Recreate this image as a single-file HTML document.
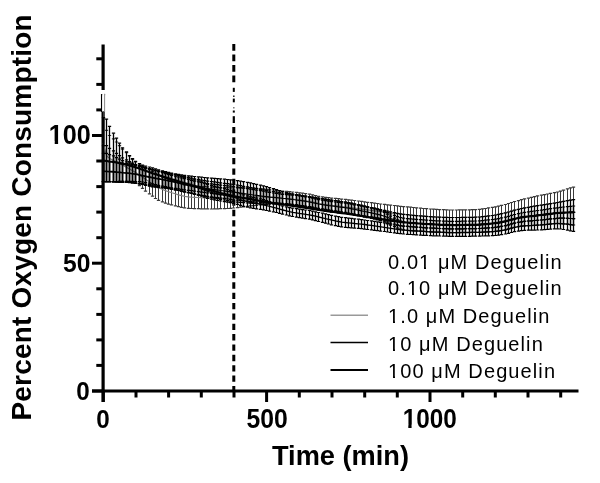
<!DOCTYPE html>
<html><head><meta charset="utf-8"><style>
html,body{margin:0;padding:0;background:#fff;}
svg{display:block;filter:grayscale(1);}
text{font-family:"Liberation Sans",sans-serif;fill:#000;}
.tk{font-size:26px;font-weight:bold;}
.tt{font-size:28px;font-weight:bold;}
.lg{font-size:20px;letter-spacing:1.1px;}
</style></head><body>
<svg width="600" height="483" viewBox="0 0 600 483">
<rect width="600" height="483" fill="#fff"/>
<line x1="103.1" y1="44.5" x2="103.1" y2="90" stroke="#000" stroke-width="3.2"/>
<line x1="101.6" y1="94" x2="101.6" y2="112" stroke="#000" stroke-width="1.3"/>
<line x1="104.5" y1="94" x2="104.5" y2="112" stroke="#808080" stroke-width="1"/>
<line x1="103.1" y1="111.5" x2="103.1" y2="402" stroke="#000" stroke-width="3.2"/>
<line x1="92" y1="391" x2="578.5" y2="391" stroke="#000" stroke-width="3"/>
<line x1="92" y1="391.0" x2="103.1" y2="391.0" stroke="#000" stroke-width="3"/>
<line x1="96.3" y1="365.4" x2="103.1" y2="365.4" stroke="#000" stroke-width="3"/>
<line x1="96.3" y1="339.9" x2="103.1" y2="339.9" stroke="#000" stroke-width="3"/>
<line x1="96.3" y1="314.4" x2="103.1" y2="314.4" stroke="#000" stroke-width="3"/>
<line x1="96.3" y1="288.8" x2="103.1" y2="288.8" stroke="#000" stroke-width="3"/>
<line x1="92" y1="263.2" x2="103.1" y2="263.2" stroke="#000" stroke-width="3"/>
<line x1="96.3" y1="237.7" x2="103.1" y2="237.7" stroke="#000" stroke-width="3"/>
<line x1="96.3" y1="212.1" x2="103.1" y2="212.1" stroke="#000" stroke-width="3"/>
<line x1="96.3" y1="186.6" x2="103.1" y2="186.6" stroke="#000" stroke-width="3"/>
<line x1="96.3" y1="161.0" x2="103.1" y2="161.0" stroke="#000" stroke-width="3"/>
<line x1="92" y1="135.5" x2="103.1" y2="135.5" stroke="#000" stroke-width="3"/>
<line x1="96.3" y1="109.9" x2="101" y2="109.9" stroke="#000" stroke-width="3"/>
<line x1="96.3" y1="84.4" x2="103.1" y2="84.4" stroke="#000" stroke-width="3"/>
<line x1="96.3" y1="58.8" x2="103.1" y2="58.8" stroke="#000" stroke-width="3"/>
<line x1="103.3" y1="391" x2="103.3" y2="402" stroke="#000" stroke-width="3"/>
<line x1="136.0" y1="391" x2="136.0" y2="397.5" stroke="#000" stroke-width="3"/>
<line x1="168.6" y1="391" x2="168.6" y2="397.5" stroke="#000" stroke-width="3"/>
<line x1="201.3" y1="391" x2="201.3" y2="397.5" stroke="#000" stroke-width="3"/>
<line x1="234.0" y1="391" x2="234.0" y2="397.5" stroke="#000" stroke-width="3"/>
<line x1="266.6" y1="391" x2="266.6" y2="402" stroke="#000" stroke-width="3"/>
<line x1="299.3" y1="391" x2="299.3" y2="397.5" stroke="#000" stroke-width="3"/>
<line x1="332.0" y1="391" x2="332.0" y2="397.5" stroke="#000" stroke-width="3"/>
<line x1="364.7" y1="391" x2="364.7" y2="397.5" stroke="#000" stroke-width="3"/>
<line x1="397.3" y1="391" x2="397.3" y2="397.5" stroke="#000" stroke-width="3"/>
<line x1="430.0" y1="391" x2="430.0" y2="402" stroke="#000" stroke-width="3"/>
<line x1="462.7" y1="391" x2="462.7" y2="397.5" stroke="#000" stroke-width="3"/>
<line x1="495.3" y1="391" x2="495.3" y2="397.5" stroke="#000" stroke-width="3"/>
<line x1="528.0" y1="391" x2="528.0" y2="397.5" stroke="#000" stroke-width="3"/>
<line x1="560.7" y1="391" x2="560.7" y2="397.5" stroke="#000" stroke-width="3"/>
<line x1="233.8" y1="44" x2="233.8" y2="86" stroke="#000" stroke-width="3" stroke-dasharray="6.7 3.8"/>
<rect x="232.80" y="87.8" width="2" height="4.1" fill="#000"/>
<rect x="233.05" y="95.5" width="1.5" height="1.5" fill="#222"/>
<rect x="232.80" y="98.6" width="2" height="3.7" fill="#000"/>
<rect x="233.05" y="107" width="1.5" height="1.5" fill="#777"/>
<rect x="232.80" y="110.5" width="2" height="2.1" fill="#000"/>
<rect x="232.70" y="116.2" width="2.2" height="6.8" fill="#000"/>
<line x1="233.8" y1="127" x2="233.8" y2="391" stroke="#000" stroke-width="3" stroke-dasharray="6.3 4.056"/>
<path d="M103.50 94.6V181.5M106.50 130.4V181.5M109.50 135.5V181.5M113.50 138.9V181.5M116.50 142.0V181.5M119.50 145.7V181.4M122.50 149.2V181.4M126.50 152.7V181.4M129.50 156.1V181.6M132.50 159.3V182.2M135.50 162.0V183.5M139.50 164.2V185.7M142.50 165.9V188.3M145.50 167.6V191.2M149.50 169.4V193.8M152.50 171.4V196.2M155.50 173.3V198.5M158.50 175.2V200.4M162.50 176.8V201.9M165.50 178.2V203.1M168.50 179.4V204.1M171.50 180.6V204.9M175.50 181.8V205.8M178.50 182.9V206.6M181.50 183.9V207.3M184.50 184.8V207.9M188.50 185.4V208.3M191.50 185.7V208.5M194.50 186.0V208.6M198.50 186.3V208.7M201.50 186.5V208.8M204.50 186.7V208.9M207.50 186.9V208.9M211.50 187.1V209.0M214.50 187.2V208.9M217.50 187.4V208.8M220.50 187.5V208.7M224.50 187.6V208.6M227.50 187.7V208.5M230.50 187.8V208.3M233.50 187.8V208.0M237.50 187.9V207.7M240.50 187.9V207.2M243.50 187.9V206.8M247.50 187.9V206.3M250.50 188.0V205.9M253.50 188.2V205.6M256.50 188.4V205.3M260.50 188.7V205.0M263.50 188.9V204.7M266.50 189.3V204.4M269.50 189.6V204.0M273.50 190.0V203.7M276.50 190.4V203.5M279.50 190.8V203.5M282.50 191.1V203.7M286.50 191.4V204.0M289.50 191.7V204.4M292.50 192.0V204.8M296.50 192.4V205.2M299.50 192.8V205.7M302.50 193.2V206.1M305.50 193.6V206.6M309.50 194.2V207.2M312.50 194.8V208.0M315.50 195.6V208.9M318.50 196.3V209.7M322.50 196.9V210.4M325.50 197.3V211.0M328.50 197.7V211.4M331.50 198.1V211.8M335.50 198.4V212.2M338.50 198.7V212.6M341.50 199.1V213.0M345.50 199.4V213.4M348.50 199.8V213.8M351.50 200.1V214.2M354.50 200.5V214.6M358.50 201.0V215.1M361.50 201.4V215.5M364.50 201.8V216.0M367.50 202.3V216.5M371.50 202.7V216.9M374.50 203.1V217.4M377.50 203.5V217.9M380.50 204.0V218.4M384.50 204.4V219.0M387.50 204.8V219.6M390.50 205.1V220.2M394.50 205.5V220.8M397.50 205.9V221.4M400.50 206.3V221.9M403.50 206.6V222.2M407.50 206.9V222.5M410.50 207.2V222.8M413.50 207.5V223.0M416.50 207.8V223.3M420.50 208.2V223.5M423.50 208.5V223.8M426.50 208.7V224.0M430.50 209.0V224.2M433.50 209.2V224.4M436.50 209.4V224.5M439.50 209.6V224.7M443.50 209.7V224.8M446.50 209.9V224.9M449.50 210.0V225.0M452.50 210.0V225.1M456.50 210.0V225.1M459.50 209.9V225.0M462.50 209.9V225.0M465.50 209.8V224.9M469.50 209.8V224.9M472.50 209.7V224.8M475.50 209.6V224.8M479.50 209.3V224.6M482.50 208.9V224.4M485.50 208.5V224.2M488.50 207.9V223.9M492.50 207.4V223.5M495.50 206.8V223.2M498.50 206.1V222.7M501.50 205.3V222.1M505.50 204.5V221.4M508.50 203.5V220.5M511.50 202.5V219.6M514.50 201.5V218.8M518.50 200.6V218.0M521.50 199.7V217.4M524.50 198.9V216.9M528.50 198.1V216.5M531.50 197.4V216.1M534.50 196.6V215.8M537.50 195.9V215.4M541.50 195.2V215.0M544.50 194.6V214.6M547.50 194.0V214.2M550.50 193.4V213.8M554.50 192.7V213.4M557.50 192.0V213.0M560.50 191.1V212.8M563.50 190.1V212.6M567.50 188.9V212.5M570.50 187.9V212.4M573.50 187.1V212.4" stroke="#3a3a3a" stroke-width="1.0" fill="none"/>
<path d="M101.85 94.6h3.3M101.85 181.5h3.3M104.85 130.4h3.3M104.85 181.5h3.3M107.85 135.5h3.3M107.85 181.5h3.3M111.85 138.9h3.3M111.85 181.5h3.3M114.85 142.0h3.3M114.85 181.5h3.3M117.85 145.7h3.3M117.85 181.4h3.3M120.85 149.2h3.3M120.85 181.4h3.3M124.85 152.7h3.3M124.85 181.4h3.3M127.85 156.1h3.3M127.85 181.6h3.3M130.85 159.3h3.3M130.85 182.2h3.3M133.85 162.0h3.3M133.85 183.5h3.3M137.85 164.2h3.3M137.85 185.7h3.3M140.85 165.9h3.3M140.85 188.3h3.3M143.85 167.6h3.3M143.85 191.2h3.3M147.85 169.4h3.3M147.85 193.8h3.3M150.85 171.4h3.3M150.85 196.2h3.3M153.85 173.3h3.3M153.85 198.5h3.3M156.85 175.2h3.3M156.85 200.4h3.3M160.85 176.8h3.3M160.85 201.9h3.3M163.85 178.2h3.3M163.85 203.1h3.3M166.85 179.4h3.3M166.85 204.1h3.3M169.85 180.6h3.3M169.85 204.9h3.3M173.85 181.8h3.3M173.85 205.8h3.3M176.85 182.9h3.3M176.85 206.6h3.3M179.85 183.9h3.3M179.85 207.3h3.3M182.85 184.8h3.3M182.85 207.9h3.3M186.85 185.4h3.3M186.85 208.3h3.3M189.85 185.7h3.3M189.85 208.5h3.3M192.85 186.0h3.3M192.85 208.6h3.3M196.85 186.3h3.3M196.85 208.7h3.3M199.85 186.5h3.3M199.85 208.8h3.3M202.85 186.7h3.3M202.85 208.9h3.3M205.85 186.9h3.3M205.85 208.9h3.3M209.85 187.1h3.3M209.85 209.0h3.3M212.85 187.2h3.3M212.85 208.9h3.3M215.85 187.4h3.3M215.85 208.8h3.3M218.85 187.5h3.3M218.85 208.7h3.3M222.85 187.6h3.3M222.85 208.6h3.3M225.85 187.7h3.3M225.85 208.5h3.3M228.85 187.8h3.3M228.85 208.3h3.3M231.85 187.8h3.3M231.85 208.0h3.3M235.85 187.9h3.3M235.85 207.7h3.3M238.85 187.9h3.3M238.85 207.2h3.3M241.85 187.9h3.3M241.85 206.8h3.3M245.85 187.9h3.3M245.85 206.3h3.3M248.85 188.0h3.3M248.85 205.9h3.3M251.85 188.2h3.3M251.85 205.6h3.3M254.85 188.4h3.3M254.85 205.3h3.3M258.85 188.7h3.3M258.85 205.0h3.3M261.85 188.9h3.3M261.85 204.7h3.3M264.85 189.3h3.3M264.85 204.4h3.3M267.85 189.6h3.3M267.85 204.0h3.3M271.85 190.0h3.3M271.85 203.7h3.3M274.85 190.4h3.3M274.85 203.5h3.3M277.85 190.8h3.3M277.85 203.5h3.3M280.85 191.1h3.3M280.85 203.7h3.3M284.85 191.4h3.3M284.85 204.0h3.3M287.85 191.7h3.3M287.85 204.4h3.3M290.85 192.0h3.3M290.85 204.8h3.3M294.85 192.4h3.3M294.85 205.2h3.3M297.85 192.8h3.3M297.85 205.7h3.3M300.85 193.2h3.3M300.85 206.1h3.3M303.85 193.6h3.3M303.85 206.6h3.3M307.85 194.2h3.3M307.85 207.2h3.3M310.85 194.8h3.3M310.85 208.0h3.3M313.85 195.6h3.3M313.85 208.9h3.3M316.85 196.3h3.3M316.85 209.7h3.3M320.85 196.9h3.3M320.85 210.4h3.3M323.85 197.3h3.3M323.85 211.0h3.3M326.85 197.7h3.3M326.85 211.4h3.3M329.85 198.1h3.3M329.85 211.8h3.3M333.85 198.4h3.3M333.85 212.2h3.3M336.85 198.7h3.3M336.85 212.6h3.3M339.85 199.1h3.3M339.85 213.0h3.3M343.85 199.4h3.3M343.85 213.4h3.3M346.85 199.8h3.3M346.85 213.8h3.3M349.85 200.1h3.3M349.85 214.2h3.3M352.85 200.5h3.3M352.85 214.6h3.3M356.85 201.0h3.3M356.85 215.1h3.3M359.85 201.4h3.3M359.85 215.5h3.3M362.85 201.8h3.3M362.85 216.0h3.3M365.85 202.3h3.3M365.85 216.5h3.3M369.85 202.7h3.3M369.85 216.9h3.3M372.85 203.1h3.3M372.85 217.4h3.3M375.85 203.5h3.3M375.85 217.9h3.3M378.85 204.0h3.3M378.85 218.4h3.3M382.85 204.4h3.3M382.85 219.0h3.3M385.85 204.8h3.3M385.85 219.6h3.3M388.85 205.1h3.3M388.85 220.2h3.3M392.85 205.5h3.3M392.85 220.8h3.3M395.85 205.9h3.3M395.85 221.4h3.3M398.85 206.3h3.3M398.85 221.9h3.3M401.85 206.6h3.3M401.85 222.2h3.3M405.85 206.9h3.3M405.85 222.5h3.3M408.85 207.2h3.3M408.85 222.8h3.3M411.85 207.5h3.3M411.85 223.0h3.3M414.85 207.8h3.3M414.85 223.3h3.3M418.85 208.2h3.3M418.85 223.5h3.3M421.85 208.5h3.3M421.85 223.8h3.3M424.85 208.7h3.3M424.85 224.0h3.3M428.85 209.0h3.3M428.85 224.2h3.3M431.85 209.2h3.3M431.85 224.4h3.3M434.85 209.4h3.3M434.85 224.5h3.3M437.85 209.6h3.3M437.85 224.7h3.3M441.85 209.7h3.3M441.85 224.8h3.3M444.85 209.9h3.3M444.85 224.9h3.3M447.85 210.0h3.3M447.85 225.0h3.3M450.85 210.0h3.3M450.85 225.1h3.3M454.85 210.0h3.3M454.85 225.1h3.3M457.85 209.9h3.3M457.85 225.0h3.3M460.85 209.9h3.3M460.85 225.0h3.3M463.85 209.8h3.3M463.85 224.9h3.3M467.85 209.8h3.3M467.85 224.9h3.3M470.85 209.7h3.3M470.85 224.8h3.3M473.85 209.6h3.3M473.85 224.8h3.3M477.85 209.3h3.3M477.85 224.6h3.3M480.85 208.9h3.3M480.85 224.4h3.3M483.85 208.5h3.3M483.85 224.2h3.3M486.85 207.9h3.3M486.85 223.9h3.3M490.85 207.4h3.3M490.85 223.5h3.3M493.85 206.8h3.3M493.85 223.2h3.3M496.85 206.1h3.3M496.85 222.7h3.3M499.85 205.3h3.3M499.85 222.1h3.3M503.85 204.5h3.3M503.85 221.4h3.3M506.85 203.5h3.3M506.85 220.5h3.3M509.85 202.5h3.3M509.85 219.6h3.3M512.85 201.5h3.3M512.85 218.8h3.3M516.85 200.6h3.3M516.85 218.0h3.3M519.85 199.7h3.3M519.85 217.4h3.3M522.85 198.9h3.3M522.85 216.9h3.3M526.85 198.1h3.3M526.85 216.5h3.3M529.85 197.4h3.3M529.85 216.1h3.3M532.85 196.6h3.3M532.85 215.8h3.3M535.85 195.9h3.3M535.85 215.4h3.3M539.85 195.2h3.3M539.85 215.0h3.3M542.85 194.6h3.3M542.85 214.6h3.3M545.85 194.0h3.3M545.85 214.2h3.3M548.85 193.4h3.3M548.85 213.8h3.3M552.85 192.7h3.3M552.85 213.4h3.3M555.85 192.0h3.3M555.85 213.0h3.3M558.85 191.1h3.3M558.85 212.8h3.3M561.85 190.1h3.3M561.85 212.6h3.3M565.85 188.9h3.3M565.85 212.5h3.3M568.85 187.9h3.3M568.85 212.4h3.3M571.85 187.1h3.3M571.85 212.4h3.3" stroke="#3a3a3a" stroke-width="1.2" fill="none"/>
<polyline points="103.3,143.2 106.6,155.9 109.8,158.5 113.1,160.2 116.4,161.8 119.6,163.6 122.9,165.3 126.2,167.1 129.4,168.9 132.7,170.8 136.0,172.8 139.2,174.9 142.5,177.1 145.8,179.4 149.0,181.6 152.3,183.8 155.6,185.9 158.8,187.8 162.1,189.3 165.4,190.6 168.6,191.7 171.9,192.8 175.2,193.8 178.4,194.8 181.7,195.6 185.0,196.3 188.2,196.8 191.5,197.1 194.8,197.3 198.0,197.5 201.3,197.6 204.6,197.8 207.8,197.9 211.1,198.0 214.4,198.1 217.6,198.1 220.9,198.1 224.2,198.1 227.4,198.1 230.7,198.0 234.0,197.9 237.2,197.8 240.5,197.5 243.8,197.3 247.0,197.1 250.3,197.0 253.6,196.9 256.8,196.8 260.1,196.8 263.4,196.9 266.6,197.0 269.9,197.2 273.2,197.4 276.5,197.7 279.7,198.0 283.0,198.3 286.3,198.5 289.5,198.9 292.8,199.2 296.1,199.6 299.3,199.9 302.6,200.3 305.9,200.8 309.1,201.3 312.4,202.0 315.7,202.7 318.9,203.5 322.2,204.1 325.5,204.6 328.7,205.0 332.0,205.4 335.3,205.8 338.5,206.2 341.8,206.6 345.1,207.0 348.3,207.4 351.6,207.8 354.9,208.2 358.1,208.6 361.4,209.1 364.7,209.5 367.9,209.9 371.2,210.3 374.5,210.8 377.7,211.2 381.0,211.6 384.3,212.1 387.5,212.5 390.8,212.9 394.1,213.3 397.3,213.7 400.6,214.1 403.9,214.4 407.1,214.7 410.4,215.0 413.7,215.3 416.9,215.6 420.2,215.8 423.5,216.1 426.7,216.4 430.0,216.6 433.3,216.8 436.5,217.0 439.8,217.1 443.1,217.3 446.3,217.4 449.6,217.5 452.9,217.5 456.1,217.5 459.4,217.5 462.7,217.4 465.9,217.4 469.2,217.3 472.5,217.3 475.7,217.2 479.0,217.0 482.3,216.7 485.5,216.3 488.8,215.9 492.1,215.5 495.3,215.0 498.6,214.4 501.9,213.7 505.1,212.9 508.4,212.0 511.7,211.1 514.9,210.2 518.2,209.3 521.5,208.5 524.7,207.9 528.0,207.3 531.3,206.7 534.5,206.2 537.8,205.7 541.1,205.1 544.3,204.6 547.6,204.1 550.9,203.6 554.1,203.1 557.4,202.5 560.7,201.9 563.9,201.3 567.2,200.7 570.5,200.1 573.7,199.7" stroke="#808080" stroke-width="1.2" fill="none"/>
<path d="M103.50 117.6V181.5M106.50 119.1V181.5M109.50 126.3V181.5M113.50 133.2V181.5M116.50 138.1V181.5M119.50 143.2V181.4M122.50 147.8V181.4M126.50 151.9V181.4M129.50 155.5V181.4M132.50 158.6V181.4M135.50 161.4V181.5M139.50 163.6V181.6M142.50 165.1V182.0M145.50 166.2V182.5M149.50 167.0V183.2M152.50 167.9V183.9M155.50 168.9V184.7M158.50 169.9V185.4M162.50 170.8V186.1M165.50 171.7V186.7M168.50 172.4V187.3M171.50 173.1V187.9M175.50 173.8V188.4M178.50 174.4V188.9M181.50 174.9V189.4M184.50 175.4V189.8M188.50 175.8V190.3M191.50 176.1V190.7M194.50 176.5V191.2M198.50 176.9V191.6M201.50 177.2V192.1M204.50 177.5V192.5M207.50 177.8V193.0M211.50 178.1V193.4M214.50 178.3V193.8M217.50 178.6V194.2M220.50 178.9V194.7M224.50 179.2V195.1M227.50 179.5V195.5M230.50 179.8V196.0M233.50 180.2V196.4M237.50 180.7V196.8M240.50 181.2V197.3M243.50 181.7V197.7M247.50 182.3V198.2M250.50 182.9V198.7M253.50 183.6V199.3M256.50 184.3V199.9M260.50 185.1V200.6M263.50 185.9V201.2M266.50 186.7V201.7M269.50 187.6V202.1M273.50 188.6V202.5M276.50 189.6V202.8M279.50 190.6V203.1M282.50 191.5V203.4M286.50 192.5V203.7M289.50 193.3V204.0M292.50 194.0V204.4M296.50 194.5V204.8M299.50 195.0V205.3M302.50 195.5V205.7M305.50 196.0V206.2M309.50 196.5V206.7M312.50 197.0V207.2M315.50 197.6V207.8M318.50 198.1V208.4M322.50 198.7V208.9M325.50 199.2V209.4M328.50 199.7V209.9M331.50 200.2V210.4M335.50 200.7V210.9M338.50 201.2V211.4M341.50 201.7V211.9M345.50 202.2V212.4M348.50 202.8V213.0M351.50 203.4V213.6M354.50 204.0V214.2M358.50 204.7V214.9M361.50 205.4V215.6M364.50 206.1V216.3M367.50 206.8V217.0M371.50 207.5V217.7M374.50 208.2V218.4M377.50 208.9V219.0M380.50 209.6V219.6M384.50 210.4V220.1M387.50 211.1V220.6M390.50 211.9V220.9M394.50 212.7V221.3M397.50 213.3V221.7M400.50 213.9V222.0M403.50 214.4V222.3M407.50 214.7V222.5M410.50 215.0V222.8M413.50 215.3V223.0M416.50 215.6V223.3M420.50 215.8V223.5M423.50 216.1V223.8M426.50 216.4V224.0M430.50 216.6V224.2M433.50 216.8V224.4M436.50 217.0V224.5M439.50 217.1V224.7M443.50 217.3V224.8M446.50 217.4V224.9M449.50 217.5V225.0M452.50 217.5V225.1M456.50 217.5V225.1M459.50 217.5V225.0M462.50 217.4V225.0M465.50 217.4V224.9M469.50 217.3V224.9M472.50 217.3V224.8M475.50 217.2V224.8M479.50 217.0V224.6M482.50 216.7V224.4M485.50 216.3V224.2M488.50 215.9V223.9M492.50 215.5V223.5M495.50 215.0V223.2M498.50 214.4V222.7M501.50 213.7V222.1M505.50 212.9V221.4M508.50 212.0V220.5M511.50 211.1V219.6M514.50 210.2V218.8M518.50 209.3V218.0M521.50 208.5V217.4M524.50 207.9V216.9M528.50 207.3V216.5M531.50 206.7V216.1M534.50 206.2V215.8M537.50 205.7V215.4M541.50 205.1V215.0M544.50 204.6V214.6M547.50 204.1V214.2M550.50 203.6V213.8M554.50 203.1V213.4M557.50 202.5V213.0M560.50 201.9V212.8M563.50 201.3V212.6M567.50 200.7V212.5M570.50 200.1V212.4M573.50 199.7V212.4" stroke="#000" stroke-width="1.3" fill="none"/>
<path d="M101.85 117.6h3.3M101.85 181.5h3.3M104.85 119.1h3.3M104.85 181.5h3.3M107.85 126.3h3.3M107.85 181.5h3.3M111.85 133.2h3.3M111.85 181.5h3.3M114.85 138.1h3.3M114.85 181.5h3.3M117.85 143.2h3.3M117.85 181.4h3.3M120.85 147.8h3.3M120.85 181.4h3.3M124.85 151.9h3.3M124.85 181.4h3.3M127.85 155.5h3.3M127.85 181.4h3.3M130.85 158.6h3.3M130.85 181.4h3.3M133.85 161.4h3.3M133.85 181.5h3.3M137.85 163.6h3.3M137.85 181.6h3.3M140.85 165.1h3.3M140.85 182.0h3.3M143.85 166.2h3.3M143.85 182.5h3.3M147.85 167.0h3.3M147.85 183.2h3.3M150.85 167.9h3.3M150.85 183.9h3.3M153.85 168.9h3.3M153.85 184.7h3.3M156.85 169.9h3.3M156.85 185.4h3.3M160.85 170.8h3.3M160.85 186.1h3.3M163.85 171.7h3.3M163.85 186.7h3.3M166.85 172.4h3.3M166.85 187.3h3.3M169.85 173.1h3.3M169.85 187.9h3.3M173.85 173.8h3.3M173.85 188.4h3.3M176.85 174.4h3.3M176.85 188.9h3.3M179.85 174.9h3.3M179.85 189.4h3.3M182.85 175.4h3.3M182.85 189.8h3.3M186.85 175.8h3.3M186.85 190.3h3.3M189.85 176.1h3.3M189.85 190.7h3.3M192.85 176.5h3.3M192.85 191.2h3.3M196.85 176.9h3.3M196.85 191.6h3.3M199.85 177.2h3.3M199.85 192.1h3.3M202.85 177.5h3.3M202.85 192.5h3.3M205.85 177.8h3.3M205.85 193.0h3.3M209.85 178.1h3.3M209.85 193.4h3.3M212.85 178.3h3.3M212.85 193.8h3.3M215.85 178.6h3.3M215.85 194.2h3.3M218.85 178.9h3.3M218.85 194.7h3.3M222.85 179.2h3.3M222.85 195.1h3.3M225.85 179.5h3.3M225.85 195.5h3.3M228.85 179.8h3.3M228.85 196.0h3.3M231.85 180.2h3.3M231.85 196.4h3.3M235.85 180.7h3.3M235.85 196.8h3.3M238.85 181.2h3.3M238.85 197.3h3.3M241.85 181.7h3.3M241.85 197.7h3.3M245.85 182.3h3.3M245.85 198.2h3.3M248.85 182.9h3.3M248.85 198.7h3.3M251.85 183.6h3.3M251.85 199.3h3.3M254.85 184.3h3.3M254.85 199.9h3.3M258.85 185.1h3.3M258.85 200.6h3.3M261.85 185.9h3.3M261.85 201.2h3.3M264.85 186.7h3.3M264.85 201.7h3.3M267.85 187.6h3.3M267.85 202.1h3.3M271.85 188.6h3.3M271.85 202.5h3.3M274.85 189.6h3.3M274.85 202.8h3.3M277.85 190.6h3.3M277.85 203.1h3.3M280.85 191.5h3.3M280.85 203.4h3.3M284.85 192.5h3.3M284.85 203.7h3.3M287.85 193.3h3.3M287.85 204.0h3.3M290.85 194.0h3.3M290.85 204.4h3.3M294.85 194.5h3.3M294.85 204.8h3.3M297.85 195.0h3.3M297.85 205.3h3.3M300.85 195.5h3.3M300.85 205.7h3.3M303.85 196.0h3.3M303.85 206.2h3.3M307.85 196.5h3.3M307.85 206.7h3.3M310.85 197.0h3.3M310.85 207.2h3.3M313.85 197.6h3.3M313.85 207.8h3.3M316.85 198.1h3.3M316.85 208.4h3.3M320.85 198.7h3.3M320.85 208.9h3.3M323.85 199.2h3.3M323.85 209.4h3.3M326.85 199.7h3.3M326.85 209.9h3.3M329.85 200.2h3.3M329.85 210.4h3.3M333.85 200.7h3.3M333.85 210.9h3.3M336.85 201.2h3.3M336.85 211.4h3.3M339.85 201.7h3.3M339.85 211.9h3.3M343.85 202.2h3.3M343.85 212.4h3.3M346.85 202.8h3.3M346.85 213.0h3.3M349.85 203.4h3.3M349.85 213.6h3.3M352.85 204.0h3.3M352.85 214.2h3.3M356.85 204.7h3.3M356.85 214.9h3.3M359.85 205.4h3.3M359.85 215.6h3.3M362.85 206.1h3.3M362.85 216.3h3.3M365.85 206.8h3.3M365.85 217.0h3.3M369.85 207.5h3.3M369.85 217.7h3.3M372.85 208.2h3.3M372.85 218.4h3.3M375.85 208.9h3.3M375.85 219.0h3.3M378.85 209.6h3.3M378.85 219.6h3.3M382.85 210.4h3.3M382.85 220.1h3.3M385.85 211.1h3.3M385.85 220.6h3.3M388.85 211.9h3.3M388.85 220.9h3.3M392.85 212.7h3.3M392.85 221.3h3.3M395.85 213.3h3.3M395.85 221.7h3.3M398.85 213.9h3.3M398.85 222.0h3.3M401.85 214.4h3.3M401.85 222.3h3.3M405.85 214.7h3.3M405.85 222.5h3.3M408.85 215.0h3.3M408.85 222.8h3.3M411.85 215.3h3.3M411.85 223.0h3.3M414.85 215.6h3.3M414.85 223.3h3.3M418.85 215.8h3.3M418.85 223.5h3.3M421.85 216.1h3.3M421.85 223.8h3.3M424.85 216.4h3.3M424.85 224.0h3.3M428.85 216.6h3.3M428.85 224.2h3.3M431.85 216.8h3.3M431.85 224.4h3.3M434.85 217.0h3.3M434.85 224.5h3.3M437.85 217.1h3.3M437.85 224.7h3.3M441.85 217.3h3.3M441.85 224.8h3.3M444.85 217.4h3.3M444.85 224.9h3.3M447.85 217.5h3.3M447.85 225.0h3.3M450.85 217.5h3.3M450.85 225.1h3.3M454.85 217.5h3.3M454.85 225.1h3.3M457.85 217.5h3.3M457.85 225.0h3.3M460.85 217.4h3.3M460.85 225.0h3.3M463.85 217.4h3.3M463.85 224.9h3.3M467.85 217.3h3.3M467.85 224.9h3.3M470.85 217.3h3.3M470.85 224.8h3.3M473.85 217.2h3.3M473.85 224.8h3.3M477.85 217.0h3.3M477.85 224.6h3.3M480.85 216.7h3.3M480.85 224.4h3.3M483.85 216.3h3.3M483.85 224.2h3.3M486.85 215.9h3.3M486.85 223.9h3.3M490.85 215.5h3.3M490.85 223.5h3.3M493.85 215.0h3.3M493.85 223.2h3.3M496.85 214.4h3.3M496.85 222.7h3.3M499.85 213.7h3.3M499.85 222.1h3.3M503.85 212.9h3.3M503.85 221.4h3.3M506.85 212.0h3.3M506.85 220.5h3.3M509.85 211.1h3.3M509.85 219.6h3.3M512.85 210.2h3.3M512.85 218.8h3.3M516.85 209.3h3.3M516.85 218.0h3.3M519.85 208.5h3.3M519.85 217.4h3.3M522.85 207.9h3.3M522.85 216.9h3.3M526.85 207.3h3.3M526.85 216.5h3.3M529.85 206.7h3.3M529.85 216.1h3.3M532.85 206.2h3.3M532.85 215.8h3.3M535.85 205.7h3.3M535.85 215.4h3.3M539.85 205.1h3.3M539.85 215.0h3.3M542.85 204.6h3.3M542.85 214.6h3.3M545.85 204.1h3.3M545.85 214.2h3.3M548.85 203.6h3.3M548.85 213.8h3.3M552.85 203.1h3.3M552.85 213.4h3.3M555.85 202.5h3.3M555.85 213.0h3.3M558.85 201.9h3.3M558.85 212.8h3.3M561.85 201.3h3.3M561.85 212.6h3.3M565.85 200.7h3.3M565.85 212.5h3.3M568.85 200.1h3.3M568.85 212.4h3.3M571.85 199.7h3.3M571.85 212.4h3.3" stroke="#000" stroke-width="1.2" fill="none"/>
<path d="M103.50 153.4V181.7M106.50 153.4V181.7M109.50 154.7V181.7M113.50 155.9V181.7M116.50 157.7V181.9M119.50 159.2V182.1M122.50 160.6V182.2M126.50 161.9V182.4M129.50 162.9V182.5M132.50 163.9V182.8M135.50 164.9V183.2M139.50 165.9V183.8M142.50 166.8V184.5M145.50 167.8V185.3M149.50 168.8V186.1M152.50 169.7V186.8M155.50 170.7V187.2M158.50 171.7V187.6M162.50 172.6V187.9M165.50 173.6V188.2M168.50 174.5V188.7M171.50 175.4V189.2M175.50 176.2V189.8M178.50 177.0V190.5M181.50 177.9V191.3M184.50 178.7V192.0M188.50 179.5V192.7M191.50 180.3V193.4M194.50 181.1V194.1M198.50 181.9V194.8M201.50 182.5V195.5M204.50 183.1V196.2M207.50 183.5V196.8M211.50 183.9V197.5M214.50 184.3V198.1M217.50 184.7V198.7M220.50 185.1V199.4M224.50 185.5V200.0M227.50 185.8V200.6M230.50 186.2V201.2M233.50 186.7V201.7M237.50 187.1V202.1M240.50 187.6V202.4M243.50 188.1V202.7M247.50 188.6V203.0M250.50 189.2V203.2M253.50 189.7V203.5M256.50 190.2V203.7M260.50 190.7V203.9M263.50 191.2V204.1M266.50 191.8V204.1M269.50 192.4V204.0M273.50 193.0V203.8M276.50 193.5V203.7M279.50 193.9V203.7M282.50 194.3V203.8M286.50 194.6V204.1M289.50 194.8V204.5M292.50 195.2V204.8M296.50 195.5V205.2M299.50 196.0V205.7M302.50 196.4V206.1M305.50 196.9V206.6M309.50 197.4V207.2M312.50 198.1V208.0M315.50 198.9V208.9M318.50 199.6V209.7M322.50 200.2V210.4M325.50 200.7V211.0M328.50 201.2V211.4M331.50 201.6V211.8M335.50 202.0V212.2M338.50 202.4V212.6M341.50 202.8V213.0M345.50 203.2V213.4M348.50 203.6V213.9M351.50 204.2V214.4M354.50 204.8V215.0M358.50 205.4V215.6M361.50 206.1V216.3M364.50 206.7V217.0M367.50 207.4V217.6M371.50 208.1V218.3M374.50 208.8V219.0M377.50 209.7V219.9M380.50 210.9V220.9M384.50 212.4V222.2M387.50 214.2V223.6M390.50 216.2V225.2M394.50 218.1V226.7M397.50 219.8V228.1M400.50 221.1V229.2M403.50 222.0V229.9M407.50 222.5V230.3M410.50 222.8V230.6M413.50 223.0V230.8M416.50 223.3V231.0M420.50 223.5V231.2M423.50 223.8V231.4M426.50 224.0V231.6M430.50 224.2V231.8M433.50 224.4V232.0M436.50 224.5V232.1M439.50 224.7V232.2M443.50 224.8V232.4M446.50 224.9V232.5M449.50 225.0V232.6M452.50 225.1V232.6M456.50 225.1V232.6M459.50 225.0V232.6M462.50 225.0V232.5M465.50 224.9V232.5M469.50 224.9V232.5M472.50 224.8V232.4M475.50 224.8V232.4M479.50 224.6V232.3M482.50 224.4V232.2M485.50 224.2V232.0M488.50 223.9V231.8M492.50 223.5V231.6M495.50 223.2V231.4M498.50 222.7V231.0M501.50 222.1V230.5M505.50 221.4V229.8M508.50 220.5V229.0M511.50 219.6V228.2M514.50 218.8V227.4M518.50 218.0V226.7M521.50 217.4V226.2M524.50 216.9V225.9M528.50 216.5V225.6M531.50 216.1V225.5M534.50 215.8V225.3M537.50 215.4V225.1M541.50 215.0V224.9M544.50 214.6V224.6M547.50 214.2V224.3M550.50 213.8V224.0M554.50 213.4V223.7M557.50 213.0V223.5M560.50 212.8V223.6M563.50 212.6V223.8M567.50 212.5V224.2M570.50 212.4V224.7M573.50 212.4V225.0" stroke="#000" stroke-width="1.3" fill="none"/>
<path d="M101.85 153.4h3.3M101.85 181.7h3.3M104.85 153.4h3.3M104.85 181.7h3.3M107.85 154.7h3.3M107.85 181.7h3.3M111.85 155.9h3.3M111.85 181.7h3.3M114.85 157.7h3.3M114.85 181.9h3.3M117.85 159.2h3.3M117.85 182.1h3.3M120.85 160.6h3.3M120.85 182.2h3.3M124.85 161.9h3.3M124.85 182.4h3.3M127.85 162.9h3.3M127.85 182.5h3.3M130.85 163.9h3.3M130.85 182.8h3.3M133.85 164.9h3.3M133.85 183.2h3.3M137.85 165.9h3.3M137.85 183.8h3.3M140.85 166.8h3.3M140.85 184.5h3.3M143.85 167.8h3.3M143.85 185.3h3.3M147.85 168.8h3.3M147.85 186.1h3.3M150.85 169.7h3.3M150.85 186.8h3.3M153.85 170.7h3.3M153.85 187.2h3.3M156.85 171.7h3.3M156.85 187.6h3.3M160.85 172.6h3.3M160.85 187.9h3.3M163.85 173.6h3.3M163.85 188.2h3.3M166.85 174.5h3.3M166.85 188.7h3.3M169.85 175.4h3.3M169.85 189.2h3.3M173.85 176.2h3.3M173.85 189.8h3.3M176.85 177.0h3.3M176.85 190.5h3.3M179.85 177.9h3.3M179.85 191.3h3.3M182.85 178.7h3.3M182.85 192.0h3.3M186.85 179.5h3.3M186.85 192.7h3.3M189.85 180.3h3.3M189.85 193.4h3.3M192.85 181.1h3.3M192.85 194.1h3.3M196.85 181.9h3.3M196.85 194.8h3.3M199.85 182.5h3.3M199.85 195.5h3.3M202.85 183.1h3.3M202.85 196.2h3.3M205.85 183.5h3.3M205.85 196.8h3.3M209.85 183.9h3.3M209.85 197.5h3.3M212.85 184.3h3.3M212.85 198.1h3.3M215.85 184.7h3.3M215.85 198.7h3.3M218.85 185.1h3.3M218.85 199.4h3.3M222.85 185.5h3.3M222.85 200.0h3.3M225.85 185.8h3.3M225.85 200.6h3.3M228.85 186.2h3.3M228.85 201.2h3.3M231.85 186.7h3.3M231.85 201.7h3.3M235.85 187.1h3.3M235.85 202.1h3.3M238.85 187.6h3.3M238.85 202.4h3.3M241.85 188.1h3.3M241.85 202.7h3.3M245.85 188.6h3.3M245.85 203.0h3.3M248.85 189.2h3.3M248.85 203.2h3.3M251.85 189.7h3.3M251.85 203.5h3.3M254.85 190.2h3.3M254.85 203.7h3.3M258.85 190.7h3.3M258.85 203.9h3.3M261.85 191.2h3.3M261.85 204.1h3.3M264.85 191.8h3.3M264.85 204.1h3.3M267.85 192.4h3.3M267.85 204.0h3.3M271.85 193.0h3.3M271.85 203.8h3.3M274.85 193.5h3.3M274.85 203.7h3.3M277.85 193.9h3.3M277.85 203.7h3.3M280.85 194.3h3.3M280.85 203.8h3.3M284.85 194.6h3.3M284.85 204.1h3.3M287.85 194.8h3.3M287.85 204.5h3.3M290.85 195.2h3.3M290.85 204.8h3.3M294.85 195.5h3.3M294.85 205.2h3.3M297.85 196.0h3.3M297.85 205.7h3.3M300.85 196.4h3.3M300.85 206.1h3.3M303.85 196.9h3.3M303.85 206.6h3.3M307.85 197.4h3.3M307.85 207.2h3.3M310.85 198.1h3.3M310.85 208.0h3.3M313.85 198.9h3.3M313.85 208.9h3.3M316.85 199.6h3.3M316.85 209.7h3.3M320.85 200.2h3.3M320.85 210.4h3.3M323.85 200.7h3.3M323.85 211.0h3.3M326.85 201.2h3.3M326.85 211.4h3.3M329.85 201.6h3.3M329.85 211.8h3.3M333.85 202.0h3.3M333.85 212.2h3.3M336.85 202.4h3.3M336.85 212.6h3.3M339.85 202.8h3.3M339.85 213.0h3.3M343.85 203.2h3.3M343.85 213.4h3.3M346.85 203.6h3.3M346.85 213.9h3.3M349.85 204.2h3.3M349.85 214.4h3.3M352.85 204.8h3.3M352.85 215.0h3.3M356.85 205.4h3.3M356.85 215.6h3.3M359.85 206.1h3.3M359.85 216.3h3.3M362.85 206.7h3.3M362.85 217.0h3.3M365.85 207.4h3.3M365.85 217.6h3.3M369.85 208.1h3.3M369.85 218.3h3.3M372.85 208.8h3.3M372.85 219.0h3.3M375.85 209.7h3.3M375.85 219.9h3.3M378.85 210.9h3.3M378.85 220.9h3.3M382.85 212.4h3.3M382.85 222.2h3.3M385.85 214.2h3.3M385.85 223.6h3.3M388.85 216.2h3.3M388.85 225.2h3.3M392.85 218.1h3.3M392.85 226.7h3.3M395.85 219.8h3.3M395.85 228.1h3.3M398.85 221.1h3.3M398.85 229.2h3.3M401.85 222.0h3.3M401.85 229.9h3.3M405.85 222.5h3.3M405.85 230.3h3.3M408.85 222.8h3.3M408.85 230.6h3.3M411.85 223.0h3.3M411.85 230.8h3.3M414.85 223.3h3.3M414.85 231.0h3.3M418.85 223.5h3.3M418.85 231.2h3.3M421.85 223.8h3.3M421.85 231.4h3.3M424.85 224.0h3.3M424.85 231.6h3.3M428.85 224.2h3.3M428.85 231.8h3.3M431.85 224.4h3.3M431.85 232.0h3.3M434.85 224.5h3.3M434.85 232.1h3.3M437.85 224.7h3.3M437.85 232.2h3.3M441.85 224.8h3.3M441.85 232.4h3.3M444.85 224.9h3.3M444.85 232.5h3.3M447.85 225.0h3.3M447.85 232.6h3.3M450.85 225.1h3.3M450.85 232.6h3.3M454.85 225.1h3.3M454.85 232.6h3.3M457.85 225.0h3.3M457.85 232.6h3.3M460.85 225.0h3.3M460.85 232.5h3.3M463.85 224.9h3.3M463.85 232.5h3.3M467.85 224.9h3.3M467.85 232.5h3.3M470.85 224.8h3.3M470.85 232.4h3.3M473.85 224.8h3.3M473.85 232.4h3.3M477.85 224.6h3.3M477.85 232.3h3.3M480.85 224.4h3.3M480.85 232.2h3.3M483.85 224.2h3.3M483.85 232.0h3.3M486.85 223.9h3.3M486.85 231.8h3.3M490.85 223.5h3.3M490.85 231.6h3.3M493.85 223.2h3.3M493.85 231.4h3.3M496.85 222.7h3.3M496.85 231.0h3.3M499.85 222.1h3.3M499.85 230.5h3.3M503.85 221.4h3.3M503.85 229.8h3.3M506.85 220.5h3.3M506.85 229.0h3.3M509.85 219.6h3.3M509.85 228.2h3.3M512.85 218.8h3.3M512.85 227.4h3.3M516.85 218.0h3.3M516.85 226.7h3.3M519.85 217.4h3.3M519.85 226.2h3.3M522.85 216.9h3.3M522.85 225.9h3.3M526.85 216.5h3.3M526.85 225.6h3.3M529.85 216.1h3.3M529.85 225.5h3.3M532.85 215.8h3.3M532.85 225.3h3.3M535.85 215.4h3.3M535.85 225.1h3.3M539.85 215.0h3.3M539.85 224.9h3.3M542.85 214.6h3.3M542.85 224.6h3.3M545.85 214.2h3.3M545.85 224.3h3.3M548.85 213.8h3.3M548.85 224.0h3.3M552.85 213.4h3.3M552.85 223.7h3.3M555.85 213.0h3.3M555.85 223.5h3.3M558.85 212.8h3.3M558.85 223.6h3.3M561.85 212.6h3.3M561.85 223.8h3.3M565.85 212.5h3.3M565.85 224.2h3.3M568.85 212.4h3.3M568.85 224.7h3.3M571.85 212.4h3.3M571.85 225.0h3.3" stroke="#000" stroke-width="1.2" fill="none"/>
<path d="M103.50 145.7V181.7M106.50 145.7V181.7M109.50 148.3V181.7M113.50 150.8V181.7M116.50 153.4V181.9M119.50 155.7V182.1M122.50 157.9V182.2M126.50 159.9V182.4M129.50 161.6V182.5M132.50 163.1V182.7M135.50 164.5V183.0M139.50 165.7V183.3M142.50 166.8V183.7M145.50 167.8V184.2M149.50 168.7V184.7M152.50 169.6V185.2M155.50 170.3V185.8M158.50 171.0V186.4M162.50 171.7V187.1M165.50 172.4V187.7M168.50 173.1V188.4M171.50 173.8V189.1M175.50 174.5V189.8M178.50 175.2V190.5M181.50 175.9V191.3M184.50 176.6V192.0M188.50 177.4V192.7M191.50 178.1V193.4M194.50 178.8V194.1M198.50 179.4V194.8M201.50 180.1V195.4M204.50 180.6V195.9M207.50 181.1V196.4M211.50 181.5V196.8M214.50 181.9V197.3M217.50 182.4V197.7M220.50 182.8V198.1M224.50 183.3V198.6M227.50 183.7V199.0M230.50 184.2V199.4M233.50 184.6V199.8M237.50 185.2V200.2M240.50 185.7V200.5M243.50 186.3V200.9M247.50 186.9V201.2M250.50 187.5V201.5M253.50 188.1V201.9M256.50 188.7V202.2M260.50 189.3V202.5M263.50 189.8V202.8M266.50 190.4V203.0M269.50 191.0V203.1M273.50 191.6V203.2M276.50 192.1V203.3M279.50 192.6V203.5M282.50 193.0V203.8M286.50 193.4V204.1M289.50 193.8V204.5M292.50 194.2V204.8M296.50 194.7V205.2M299.50 195.2V205.7M302.50 195.7V206.1M305.50 196.2V206.6M309.50 196.7V207.2M312.50 197.3V208.0M315.50 197.8V208.9M318.50 198.4V209.7M322.50 198.9V210.4M325.50 199.3V211.0M328.50 199.8V211.4M331.50 200.3V211.8M335.50 200.7V212.2M338.50 201.1V212.6M341.50 201.6V213.0M345.50 202.1V213.4M348.50 202.6V213.8M351.50 203.2V214.4M354.50 203.9V214.9M358.50 204.6V215.6M361.50 205.3V216.2M364.50 206.1V216.8M367.50 206.8V217.5M371.50 207.6V218.1M374.50 208.4V218.8M377.50 209.2V219.5M380.50 210.2V220.3M384.50 211.4V221.1M387.50 212.7V222.1M390.50 214.0V223.1M394.50 215.4V224.0M397.50 216.6V224.9M400.50 217.5V225.6M403.50 218.2V226.1M407.50 218.6V226.4M410.50 218.9V226.7M413.50 219.2V226.9M416.50 219.4V227.1M420.50 219.7V227.4M423.50 219.9V227.6M426.50 220.2V227.8M430.50 220.4V228.0M433.50 220.6V228.2M436.50 220.8V228.3M439.50 220.9V228.5M443.50 221.1V228.6M446.50 221.2V228.7M449.50 221.3V228.8M452.50 221.3V228.8M456.50 221.3V228.8M459.50 221.3V228.8M462.50 221.2V228.8M465.50 221.2V228.7M469.50 221.1V228.7M472.50 221.1V228.6M475.50 221.0V228.6M479.50 220.8V228.5M482.50 220.6V228.3M485.50 220.2V228.1M488.50 219.9V227.8M492.50 219.5V227.6M495.50 219.1V227.3M498.50 218.6V226.9M501.50 217.9V226.3M505.50 217.1V225.6M508.50 216.3V224.8M511.50 215.4V223.9M514.50 214.5V223.1M518.50 213.7V222.4M521.50 213.0V221.8M524.50 212.4V221.4M528.50 211.9V221.0M531.50 211.4V220.8M534.50 211.0V220.5M537.50 210.5V220.3M541.50 210.1V220.0M544.50 209.6V219.6M547.50 209.1V219.3M550.50 208.7V218.9M554.50 208.2V218.6M557.50 207.8V218.3M560.50 207.3V218.2M563.50 207.0V218.2M567.50 206.6V218.4M570.50 206.3V218.5M573.50 206.0V218.7" stroke="#000" stroke-width="1.3" fill="none"/>
<path d="M101.85 145.7h3.3M101.85 181.7h3.3M104.85 145.7h3.3M104.85 181.7h3.3M107.85 148.3h3.3M107.85 181.7h3.3M111.85 150.8h3.3M111.85 181.7h3.3M114.85 153.4h3.3M114.85 181.9h3.3M117.85 155.7h3.3M117.85 182.1h3.3M120.85 157.9h3.3M120.85 182.2h3.3M124.85 159.9h3.3M124.85 182.4h3.3M127.85 161.6h3.3M127.85 182.5h3.3M130.85 163.1h3.3M130.85 182.7h3.3M133.85 164.5h3.3M133.85 183.0h3.3M137.85 165.7h3.3M137.85 183.3h3.3M140.85 166.8h3.3M140.85 183.7h3.3M143.85 167.8h3.3M143.85 184.2h3.3M147.85 168.7h3.3M147.85 184.7h3.3M150.85 169.6h3.3M150.85 185.2h3.3M153.85 170.3h3.3M153.85 185.8h3.3M156.85 171.0h3.3M156.85 186.4h3.3M160.85 171.7h3.3M160.85 187.1h3.3M163.85 172.4h3.3M163.85 187.7h3.3M166.85 173.1h3.3M166.85 188.4h3.3M169.85 173.8h3.3M169.85 189.1h3.3M173.85 174.5h3.3M173.85 189.8h3.3M176.85 175.2h3.3M176.85 190.5h3.3M179.85 175.9h3.3M179.85 191.3h3.3M182.85 176.6h3.3M182.85 192.0h3.3M186.85 177.4h3.3M186.85 192.7h3.3M189.85 178.1h3.3M189.85 193.4h3.3M192.85 178.8h3.3M192.85 194.1h3.3M196.85 179.4h3.3M196.85 194.8h3.3M199.85 180.1h3.3M199.85 195.4h3.3M202.85 180.6h3.3M202.85 195.9h3.3M205.85 181.1h3.3M205.85 196.4h3.3M209.85 181.5h3.3M209.85 196.8h3.3M212.85 181.9h3.3M212.85 197.3h3.3M215.85 182.4h3.3M215.85 197.7h3.3M218.85 182.8h3.3M218.85 198.1h3.3M222.85 183.3h3.3M222.85 198.6h3.3M225.85 183.7h3.3M225.85 199.0h3.3M228.85 184.2h3.3M228.85 199.4h3.3M231.85 184.6h3.3M231.85 199.8h3.3M235.85 185.2h3.3M235.85 200.2h3.3M238.85 185.7h3.3M238.85 200.5h3.3M241.85 186.3h3.3M241.85 200.9h3.3M245.85 186.9h3.3M245.85 201.2h3.3M248.85 187.5h3.3M248.85 201.5h3.3M251.85 188.1h3.3M251.85 201.9h3.3M254.85 188.7h3.3M254.85 202.2h3.3M258.85 189.3h3.3M258.85 202.5h3.3M261.85 189.8h3.3M261.85 202.8h3.3M264.85 190.4h3.3M264.85 203.0h3.3M267.85 191.0h3.3M267.85 203.1h3.3M271.85 191.6h3.3M271.85 203.2h3.3M274.85 192.1h3.3M274.85 203.3h3.3M277.85 192.6h3.3M277.85 203.5h3.3M280.85 193.0h3.3M280.85 203.8h3.3M284.85 193.4h3.3M284.85 204.1h3.3M287.85 193.8h3.3M287.85 204.5h3.3M290.85 194.2h3.3M290.85 204.8h3.3M294.85 194.7h3.3M294.85 205.2h3.3M297.85 195.2h3.3M297.85 205.7h3.3M300.85 195.7h3.3M300.85 206.1h3.3M303.85 196.2h3.3M303.85 206.6h3.3M307.85 196.7h3.3M307.85 207.2h3.3M310.85 197.3h3.3M310.85 208.0h3.3M313.85 197.8h3.3M313.85 208.9h3.3M316.85 198.4h3.3M316.85 209.7h3.3M320.85 198.9h3.3M320.85 210.4h3.3M323.85 199.3h3.3M323.85 211.0h3.3M326.85 199.8h3.3M326.85 211.4h3.3M329.85 200.3h3.3M329.85 211.8h3.3M333.85 200.7h3.3M333.85 212.2h3.3M336.85 201.1h3.3M336.85 212.6h3.3M339.85 201.6h3.3M339.85 213.0h3.3M343.85 202.1h3.3M343.85 213.4h3.3M346.85 202.6h3.3M346.85 213.8h3.3M349.85 203.2h3.3M349.85 214.4h3.3M352.85 203.9h3.3M352.85 214.9h3.3M356.85 204.6h3.3M356.85 215.6h3.3M359.85 205.3h3.3M359.85 216.2h3.3M362.85 206.1h3.3M362.85 216.8h3.3M365.85 206.8h3.3M365.85 217.5h3.3M369.85 207.6h3.3M369.85 218.1h3.3M372.85 208.4h3.3M372.85 218.8h3.3M375.85 209.2h3.3M375.85 219.5h3.3M378.85 210.2h3.3M378.85 220.3h3.3M382.85 211.4h3.3M382.85 221.1h3.3M385.85 212.7h3.3M385.85 222.1h3.3M388.85 214.0h3.3M388.85 223.1h3.3M392.85 215.4h3.3M392.85 224.0h3.3M395.85 216.6h3.3M395.85 224.9h3.3M398.85 217.5h3.3M398.85 225.6h3.3M401.85 218.2h3.3M401.85 226.1h3.3M405.85 218.6h3.3M405.85 226.4h3.3M408.85 218.9h3.3M408.85 226.7h3.3M411.85 219.2h3.3M411.85 226.9h3.3M414.85 219.4h3.3M414.85 227.1h3.3M418.85 219.7h3.3M418.85 227.4h3.3M421.85 219.9h3.3M421.85 227.6h3.3M424.85 220.2h3.3M424.85 227.8h3.3M428.85 220.4h3.3M428.85 228.0h3.3M431.85 220.6h3.3M431.85 228.2h3.3M434.85 220.8h3.3M434.85 228.3h3.3M437.85 220.9h3.3M437.85 228.5h3.3M441.85 221.1h3.3M441.85 228.6h3.3M444.85 221.2h3.3M444.85 228.7h3.3M447.85 221.3h3.3M447.85 228.8h3.3M450.85 221.3h3.3M450.85 228.8h3.3M454.85 221.3h3.3M454.85 228.8h3.3M457.85 221.3h3.3M457.85 228.8h3.3M460.85 221.2h3.3M460.85 228.8h3.3M463.85 221.2h3.3M463.85 228.7h3.3M467.85 221.1h3.3M467.85 228.7h3.3M470.85 221.1h3.3M470.85 228.6h3.3M473.85 221.0h3.3M473.85 228.6h3.3M477.85 220.8h3.3M477.85 228.5h3.3M480.85 220.6h3.3M480.85 228.3h3.3M483.85 220.2h3.3M483.85 228.1h3.3M486.85 219.9h3.3M486.85 227.8h3.3M490.85 219.5h3.3M490.85 227.6h3.3M493.85 219.1h3.3M493.85 227.3h3.3M496.85 218.6h3.3M496.85 226.9h3.3M499.85 217.9h3.3M499.85 226.3h3.3M503.85 217.1h3.3M503.85 225.6h3.3M506.85 216.3h3.3M506.85 224.8h3.3M509.85 215.4h3.3M509.85 223.9h3.3M512.85 214.5h3.3M512.85 223.1h3.3M516.85 213.7h3.3M516.85 222.4h3.3M519.85 213.0h3.3M519.85 221.8h3.3M522.85 212.4h3.3M522.85 221.4h3.3M526.85 211.9h3.3M526.85 221.0h3.3M529.85 211.4h3.3M529.85 220.8h3.3M532.85 211.0h3.3M532.85 220.5h3.3M535.85 210.5h3.3M535.85 220.3h3.3M539.85 210.1h3.3M539.85 220.0h3.3M542.85 209.6h3.3M542.85 219.6h3.3M545.85 209.1h3.3M545.85 219.3h3.3M548.85 208.7h3.3M548.85 218.9h3.3M552.85 208.2h3.3M552.85 218.6h3.3M555.85 207.8h3.3M555.85 218.3h3.3M558.85 207.3h3.3M558.85 218.2h3.3M561.85 207.0h3.3M561.85 218.2h3.3M565.85 206.6h3.3M565.85 218.4h3.3M568.85 206.3h3.3M568.85 218.5h3.3M571.85 206.0h3.3M571.85 218.7h3.3" stroke="#000" stroke-width="1.2" fill="none"/>
<polyline points="103.3,171.3 106.6,171.3 109.8,171.3 113.1,171.3 116.4,171.8 119.6,172.1 122.9,172.5 126.2,172.8 129.4,173.2 132.7,173.6 136.0,174.1 139.2,174.6 142.5,175.3 145.8,176.0 149.0,176.7 152.3,177.4 155.6,178.1 158.8,178.7 162.1,179.4 165.4,180.1 168.6,180.8 171.9,181.4 175.2,182.2 178.4,182.9 181.7,183.6 185.0,184.3 188.2,185.0 191.5,185.7 194.8,186.4 198.0,187.1 201.3,187.7 204.6,188.3 207.8,188.7 211.1,189.2 214.4,189.6 217.6,190.0 220.9,190.5 224.2,190.9 227.4,191.4 230.7,191.8 234.0,192.2 237.2,192.7 240.5,193.1 243.8,193.6 247.0,194.1 250.3,194.5 253.6,195.0 256.8,195.4 260.1,195.9 263.4,196.3 266.6,196.7 269.9,197.1 273.2,197.4 276.5,197.7 279.7,198.0 283.0,198.4 286.3,198.7 289.5,199.1 292.8,199.5 296.1,200.0 299.3,200.4 302.6,200.9 305.9,201.4 309.1,202.0 312.4,202.6 315.7,203.3 318.9,204.0 322.2,204.6 325.5,205.1 328.7,205.6 332.0,206.0 335.3,206.4 338.5,206.9 341.8,207.3 345.1,207.7 348.3,208.2 351.6,208.8 354.9,209.4 358.1,210.1 361.4,210.8 364.7,211.5 367.9,212.2 371.2,212.9 374.5,213.6 377.7,214.4 381.0,215.2 384.3,216.3 387.5,217.4 390.8,218.6 394.1,219.7 397.3,220.7 400.6,221.6 403.9,222.1 407.1,222.5 410.4,222.8 413.7,223.0 416.9,223.3 420.2,223.5 423.5,223.8 426.7,224.0 430.0,224.2 433.3,224.4 436.5,224.5 439.8,224.7 443.1,224.8 446.3,224.9 449.6,225.0 452.9,225.1 456.1,225.1 459.4,225.0 462.7,225.0 465.9,224.9 469.2,224.9 472.5,224.8 475.7,224.8 479.0,224.6 482.3,224.4 485.5,224.2 488.8,223.9 492.1,223.5 495.3,223.2 498.6,222.7 501.9,222.1 505.1,221.4 508.4,220.5 511.7,219.6 514.9,218.8 518.2,218.0 521.5,217.4 524.7,216.9 528.0,216.5 531.3,216.1 534.5,215.8 537.8,215.4 541.1,215.0 544.3,214.6 547.6,214.2 550.9,213.8 554.1,213.4 557.4,213.0 560.7,212.8 563.9,212.6 567.2,212.5 570.5,212.4 573.7,212.4" stroke="#000" stroke-width="1.2" fill="none"/>
<path d="M103.50 160.8V181.7M106.50 161.2V181.8M109.50 161.6V181.9M113.50 162.0V182.1M116.50 162.4V182.2M119.50 162.8V182.3M122.50 163.2V182.4M126.50 163.7V182.5M129.50 164.1V182.6M132.50 164.7V182.8M135.50 165.5V183.2M139.50 166.5V183.8M142.50 167.4V184.4M145.50 168.3V185.0M149.50 169.0V185.6M152.50 169.7V186.1M155.50 170.4V186.6M158.50 171.1V187.0M162.50 171.8V187.5M165.50 172.6V187.9M168.50 173.3V188.3M171.50 174.1V188.9M175.50 174.9V189.5M178.50 175.7V190.2M181.50 176.5V190.9M184.50 177.4V191.7M188.50 178.2V192.5M191.50 179.0V193.3M194.50 179.9V194.2M198.50 180.9V195.1M201.50 181.9V196.1M204.50 183.1V197.2M207.50 184.4V198.3M211.50 185.5V199.2M214.50 186.4V199.9M217.50 187.2V200.5M220.50 187.9V201.0M224.50 188.7V201.6M227.50 189.5V202.1M230.50 190.3V202.7M233.50 191.3V203.5M237.50 192.5V204.4M240.50 193.7V205.4M243.50 194.9V206.3M247.50 195.9V207.1M250.50 196.8V207.8M253.50 197.5V208.3M256.50 198.2V208.9M260.50 198.9V209.4M263.50 199.7V209.9M266.50 200.6V210.5M269.50 201.7V211.1M273.50 202.8V211.8M276.50 203.8V212.5M279.50 204.9V213.3M282.50 205.9V214.1M286.50 206.8V215.0M289.50 207.6V215.8M292.50 208.2V216.5M296.50 208.7V217.1M299.50 209.2V217.6M302.50 209.6V218.1M305.50 210.0V218.6M309.50 210.5V219.2M312.50 211.1V219.9M315.50 211.8V220.7M318.50 212.5V221.5M322.50 213.2V222.3M325.50 213.9V223.2M328.50 214.7V224.0M331.50 215.4V224.8M335.50 216.1V225.6M338.50 216.7V226.3M341.50 217.3V226.9M345.50 217.7V227.3M348.50 218.1V227.6M351.50 218.4V227.8M354.50 218.8V228.1M358.50 219.2V228.4M361.50 219.6V228.7M364.50 220.0V229.1M367.50 220.5V229.5M371.50 220.9V229.9M374.50 221.4V230.3M377.50 221.9V230.7M380.50 222.4V231.1M384.50 223.0V231.5M387.50 223.6V232.0M390.50 224.2V232.5M394.50 224.8V232.9M397.50 225.3V233.4M400.50 225.8V233.7M403.50 226.2V234.0M407.50 226.4V234.3M410.50 226.7V234.5M413.50 226.9V234.7M416.50 227.1V234.9M420.50 227.4V235.1M423.50 227.6V235.3M426.50 227.8V235.4M430.50 228.0V235.6M433.50 228.2V235.8M436.50 228.3V235.9M439.50 228.5V236.0M443.50 228.6V236.1M446.50 228.7V236.2M449.50 228.8V236.3M452.50 228.8V236.4M456.50 228.8V236.4M459.50 228.8V236.3M462.50 228.8V236.3M465.50 228.7V236.3M469.50 228.7V236.3M472.50 228.6V236.2M475.50 228.6V236.2M479.50 228.5V236.1M482.50 228.3V236.0M485.50 228.1V235.9M488.50 227.8V235.8M492.50 227.6V235.7M495.50 227.3V235.5M498.50 226.9V235.2M501.50 226.3V234.7M505.50 225.6V234.0M508.50 224.8V233.3M511.50 223.9V232.5M514.50 223.1V231.7M518.50 222.4V231.1M521.50 221.8V230.6M524.50 221.4V230.3M528.50 221.0V230.2M531.50 220.8V230.2M534.50 220.5V230.1M537.50 220.3V230.0M541.50 220.0V229.8M544.50 219.6V229.6M547.50 219.3V229.4M550.50 218.9V229.1M554.50 218.6V228.9M557.50 218.3V228.8M560.50 218.2V229.0M563.50 218.2V229.5M567.50 218.4V230.1M570.50 218.5V230.8M573.50 218.7V231.3" stroke="#000" stroke-width="1.3" fill="none"/>
<path d="M101.85 160.8h3.3M101.85 181.7h3.3M104.85 161.2h3.3M104.85 181.8h3.3M107.85 161.6h3.3M107.85 181.9h3.3M111.85 162.0h3.3M111.85 182.1h3.3M114.85 162.4h3.3M114.85 182.2h3.3M117.85 162.8h3.3M117.85 182.3h3.3M120.85 163.2h3.3M120.85 182.4h3.3M124.85 163.7h3.3M124.85 182.5h3.3M127.85 164.1h3.3M127.85 182.6h3.3M130.85 164.7h3.3M130.85 182.8h3.3M133.85 165.5h3.3M133.85 183.2h3.3M137.85 166.5h3.3M137.85 183.8h3.3M140.85 167.4h3.3M140.85 184.4h3.3M143.85 168.3h3.3M143.85 185.0h3.3M147.85 169.0h3.3M147.85 185.6h3.3M150.85 169.7h3.3M150.85 186.1h3.3M153.85 170.4h3.3M153.85 186.6h3.3M156.85 171.1h3.3M156.85 187.0h3.3M160.85 171.8h3.3M160.85 187.5h3.3M163.85 172.6h3.3M163.85 187.9h3.3M166.85 173.3h3.3M166.85 188.3h3.3M169.85 174.1h3.3M169.85 188.9h3.3M173.85 174.9h3.3M173.85 189.5h3.3M176.85 175.7h3.3M176.85 190.2h3.3M179.85 176.5h3.3M179.85 190.9h3.3M182.85 177.4h3.3M182.85 191.7h3.3M186.85 178.2h3.3M186.85 192.5h3.3M189.85 179.0h3.3M189.85 193.3h3.3M192.85 179.9h3.3M192.85 194.2h3.3M196.85 180.9h3.3M196.85 195.1h3.3M199.85 181.9h3.3M199.85 196.1h3.3M202.85 183.1h3.3M202.85 197.2h3.3M205.85 184.4h3.3M205.85 198.3h3.3M209.85 185.5h3.3M209.85 199.2h3.3M212.85 186.4h3.3M212.85 199.9h3.3M215.85 187.2h3.3M215.85 200.5h3.3M218.85 187.9h3.3M218.85 201.0h3.3M222.85 188.7h3.3M222.85 201.6h3.3M225.85 189.5h3.3M225.85 202.1h3.3M228.85 190.3h3.3M228.85 202.7h3.3M231.85 191.3h3.3M231.85 203.5h3.3M235.85 192.5h3.3M235.85 204.4h3.3M238.85 193.7h3.3M238.85 205.4h3.3M241.85 194.9h3.3M241.85 206.3h3.3M245.85 195.9h3.3M245.85 207.1h3.3M248.85 196.8h3.3M248.85 207.8h3.3M251.85 197.5h3.3M251.85 208.3h3.3M254.85 198.2h3.3M254.85 208.9h3.3M258.85 198.9h3.3M258.85 209.4h3.3M261.85 199.7h3.3M261.85 209.9h3.3M264.85 200.6h3.3M264.85 210.5h3.3M267.85 201.7h3.3M267.85 211.1h3.3M271.85 202.8h3.3M271.85 211.8h3.3M274.85 203.8h3.3M274.85 212.5h3.3M277.85 204.9h3.3M277.85 213.3h3.3M280.85 205.9h3.3M280.85 214.1h3.3M284.85 206.8h3.3M284.85 215.0h3.3M287.85 207.6h3.3M287.85 215.8h3.3M290.85 208.2h3.3M290.85 216.5h3.3M294.85 208.7h3.3M294.85 217.1h3.3M297.85 209.2h3.3M297.85 217.6h3.3M300.85 209.6h3.3M300.85 218.1h3.3M303.85 210.0h3.3M303.85 218.6h3.3M307.85 210.5h3.3M307.85 219.2h3.3M310.85 211.1h3.3M310.85 219.9h3.3M313.85 211.8h3.3M313.85 220.7h3.3M316.85 212.5h3.3M316.85 221.5h3.3M320.85 213.2h3.3M320.85 222.3h3.3M323.85 213.9h3.3M323.85 223.2h3.3M326.85 214.7h3.3M326.85 224.0h3.3M329.85 215.4h3.3M329.85 224.8h3.3M333.85 216.1h3.3M333.85 225.6h3.3M336.85 216.7h3.3M336.85 226.3h3.3M339.85 217.3h3.3M339.85 226.9h3.3M343.85 217.7h3.3M343.85 227.3h3.3M346.85 218.1h3.3M346.85 227.6h3.3M349.85 218.4h3.3M349.85 227.8h3.3M352.85 218.8h3.3M352.85 228.1h3.3M356.85 219.2h3.3M356.85 228.4h3.3M359.85 219.6h3.3M359.85 228.7h3.3M362.85 220.0h3.3M362.85 229.1h3.3M365.85 220.5h3.3M365.85 229.5h3.3M369.85 220.9h3.3M369.85 229.9h3.3M372.85 221.4h3.3M372.85 230.3h3.3M375.85 221.9h3.3M375.85 230.7h3.3M378.85 222.4h3.3M378.85 231.1h3.3M382.85 223.0h3.3M382.85 231.5h3.3M385.85 223.6h3.3M385.85 232.0h3.3M388.85 224.2h3.3M388.85 232.5h3.3M392.85 224.8h3.3M392.85 232.9h3.3M395.85 225.3h3.3M395.85 233.4h3.3M398.85 225.8h3.3M398.85 233.7h3.3M401.85 226.2h3.3M401.85 234.0h3.3M405.85 226.4h3.3M405.85 234.3h3.3M408.85 226.7h3.3M408.85 234.5h3.3M411.85 226.9h3.3M411.85 234.7h3.3M414.85 227.1h3.3M414.85 234.9h3.3M418.85 227.4h3.3M418.85 235.1h3.3M421.85 227.6h3.3M421.85 235.3h3.3M424.85 227.8h3.3M424.85 235.4h3.3M428.85 228.0h3.3M428.85 235.6h3.3M431.85 228.2h3.3M431.85 235.8h3.3M434.85 228.3h3.3M434.85 235.9h3.3M437.85 228.5h3.3M437.85 236.0h3.3M441.85 228.6h3.3M441.85 236.1h3.3M444.85 228.7h3.3M444.85 236.2h3.3M447.85 228.8h3.3M447.85 236.3h3.3M450.85 228.8h3.3M450.85 236.4h3.3M454.85 228.8h3.3M454.85 236.4h3.3M457.85 228.8h3.3M457.85 236.3h3.3M460.85 228.8h3.3M460.85 236.3h3.3M463.85 228.7h3.3M463.85 236.3h3.3M467.85 228.7h3.3M467.85 236.3h3.3M470.85 228.6h3.3M470.85 236.2h3.3M473.85 228.6h3.3M473.85 236.2h3.3M477.85 228.5h3.3M477.85 236.1h3.3M480.85 228.3h3.3M480.85 236.0h3.3M483.85 228.1h3.3M483.85 235.9h3.3M486.85 227.8h3.3M486.85 235.8h3.3M490.85 227.6h3.3M490.85 235.7h3.3M493.85 227.3h3.3M493.85 235.5h3.3M496.85 226.9h3.3M496.85 235.2h3.3M499.85 226.3h3.3M499.85 234.7h3.3M503.85 225.6h3.3M503.85 234.0h3.3M506.85 224.8h3.3M506.85 233.3h3.3M509.85 223.9h3.3M509.85 232.5h3.3M512.85 223.1h3.3M512.85 231.7h3.3M516.85 222.4h3.3M516.85 231.1h3.3M519.85 221.8h3.3M519.85 230.6h3.3M522.85 221.4h3.3M522.85 230.3h3.3M526.85 221.0h3.3M526.85 230.2h3.3M529.85 220.8h3.3M529.85 230.2h3.3M532.85 220.5h3.3M532.85 230.1h3.3M535.85 220.3h3.3M535.85 230.0h3.3M539.85 220.0h3.3M539.85 229.8h3.3M542.85 219.6h3.3M542.85 229.6h3.3M545.85 219.3h3.3M545.85 229.4h3.3M548.85 218.9h3.3M548.85 229.1h3.3M552.85 218.6h3.3M552.85 228.9h3.3M555.85 218.3h3.3M555.85 228.8h3.3M558.85 218.2h3.3M558.85 229.0h3.3M561.85 218.2h3.3M561.85 229.5h3.3M565.85 218.4h3.3M565.85 230.1h3.3M568.85 218.5h3.3M568.85 230.8h3.3M571.85 218.7h3.3M571.85 231.3h3.3" stroke="#000" stroke-width="1.2" fill="none"/>
<polyline points="103.3,171.3 106.6,171.5 109.8,171.8 113.1,172.0 116.4,172.3 119.6,172.5 122.9,172.8 126.2,173.1 129.4,173.4 132.7,173.8 136.0,174.4 139.2,175.1 142.5,175.9 145.8,176.6 149.0,177.3 152.3,177.9 155.6,178.5 158.8,179.1 162.1,179.7 165.4,180.2 168.6,180.8 171.9,181.5 175.2,182.2 178.4,182.9 181.7,183.7 185.0,184.5 188.2,185.3 191.5,186.2 194.8,187.0 198.0,188.0 201.3,189.0 204.6,190.2 207.8,191.3 211.1,192.3 214.4,193.2 217.6,193.9 220.9,194.5 224.2,195.1 227.4,195.8 230.7,196.5 234.0,197.4 237.2,198.4 240.5,199.6 243.8,200.6 247.0,201.5 250.3,202.3 253.6,202.9 256.8,203.5 260.1,204.2 263.4,204.8 266.6,205.6 269.9,206.4 273.2,207.3 276.5,208.2 279.7,209.1 283.0,210.0 286.3,210.9 289.5,211.7 292.8,212.4 296.1,212.9 299.3,213.4 302.6,213.8 305.9,214.3 309.1,214.9 312.4,215.5 315.7,216.2 318.9,217.0 322.2,217.8 325.5,218.6 328.7,219.3 332.0,220.1 335.3,220.9 338.5,221.5 341.8,222.1 345.1,222.5 348.3,222.8 351.6,223.1 354.9,223.5 358.1,223.8 361.4,224.1 364.7,224.5 367.9,225.0 371.2,225.4 374.5,225.8 377.7,226.3 381.0,226.8 384.3,227.3 387.5,227.8 390.8,228.3 394.1,228.9 397.3,229.4 400.6,229.8 403.9,230.1 407.1,230.4 410.4,230.6 413.7,230.8 416.9,231.0 420.2,231.2 423.5,231.4 426.7,231.6 430.0,231.8 433.3,232.0 436.5,232.1 439.8,232.2 443.1,232.4 446.3,232.5 449.6,232.6 452.9,232.6 456.1,232.6 459.4,232.6 462.7,232.5 465.9,232.5 469.2,232.5 472.5,232.4 475.7,232.4 479.0,232.3 482.3,232.2 485.5,232.0 488.8,231.8 492.1,231.6 495.3,231.4 498.6,231.0 501.9,230.5 505.1,229.8 508.4,229.0 511.7,228.2 514.9,227.4 518.2,226.7 521.5,226.2 524.7,225.9 528.0,225.6 531.3,225.5 534.5,225.3 537.8,225.1 541.1,224.9 544.3,224.6 547.6,224.3 550.9,224.0 554.1,223.7 557.4,223.5 560.7,223.6 563.9,223.8 567.2,224.2 570.5,224.7 573.7,225.0" stroke="#000" stroke-width="1.3" fill="none"/>
<polyline points="103.3,160.5 106.6,161.0 109.8,161.5 113.1,161.9 116.4,162.5 119.6,163.1 122.9,163.8 126.2,164.6 129.4,165.5 132.7,166.4 136.0,167.4 139.2,168.5 142.5,169.7 145.8,170.9 149.0,172.0 152.3,173.2 155.6,174.3 158.8,175.3 162.1,176.4 165.4,177.4 168.6,178.4 171.9,179.4 175.2,180.3 178.4,181.3 181.7,182.2 185.0,183.2 188.2,184.1 191.5,185.1 194.8,186.0 198.0,186.9 201.3,187.8 204.6,188.7 207.8,189.6 211.1,190.4 214.4,191.3 217.6,192.1 220.9,193.0 224.2,193.8 227.4,194.7 230.7,195.4 234.0,196.2 237.2,196.8 240.5,197.5 243.8,198.1 247.0,198.6 250.3,199.2 253.6,199.8 256.8,200.4 260.1,201.0 263.4,201.6 266.6,202.1 269.9,202.6 273.2,203.1 276.5,203.6 279.7,204.0 283.0,204.5 286.3,205.0 289.5,205.4 292.8,205.9 296.1,206.4 299.3,206.9 302.6,207.4 305.9,207.9 309.1,208.4 312.4,208.9 315.7,209.4 318.9,209.9 322.2,210.4 325.5,210.9 328.7,211.3 332.0,211.7 335.3,212.2 338.5,212.6 341.8,213.1 345.1,213.5 348.3,214.0 351.6,214.5 354.9,215.0 358.1,215.5 361.4,216.0 364.7,216.5 367.9,217.0 371.2,217.5 374.5,218.0 377.7,218.5 381.0,219.0 384.3,219.5 387.5,220.1 390.8,220.6 394.1,221.1 397.3,221.5 400.6,221.9 403.9,222.3 407.1,222.5 410.4,222.8 413.7,223.0 416.9,223.3 420.2,223.5 423.5,223.8 426.7,224.0 430.0,224.2 433.3,224.4 436.5,224.5 439.8,224.7 443.1,224.8 446.3,224.9 449.6,225.0 452.9,225.1 456.1,225.1 459.4,225.0 462.7,225.0 465.9,224.9 469.2,224.9 472.5,224.8 475.7,224.8 479.0,224.6 482.3,224.4 485.5,224.2 488.8,223.9 492.1,223.5 495.3,223.2 498.6,222.7 501.9,222.1 505.1,221.4 508.4,220.5 511.7,219.6 514.9,218.8 518.2,218.0 521.5,217.4 524.7,216.9 528.0,216.5 531.3,216.1 534.5,215.8 537.8,215.4 541.1,215.0 544.3,214.6 547.6,214.2 550.9,213.8 554.1,213.4 557.4,213.0 560.7,212.8 563.9,212.6 567.2,212.5 570.5,212.4 573.7,212.4" stroke="#000" stroke-width="2.2" fill="none"/>
<rect x="102.3" y="93.6" width="2.9" height="17.6" fill="#fff"/>
<line x1="104.6" y1="93.8" x2="104.6" y2="112" stroke="#8a8a8a" stroke-width="1"/>
<text x="388" y="268.5" class="lg">0.01 μM Deguelin</text>
<rect x="419.40" y="265.50" width="4.6" height="4.0" fill="#fff"/><rect x="426.00" y="265.50" width="5" height="4.0" fill="#fff"/>
<text x="388" y="295.3" class="lg">0.10 μM Deguelin</text>
<rect x="407.40" y="292.30" width="4.6" height="4.0" fill="#fff"/><rect x="414.00" y="292.30" width="5" height="4.0" fill="#fff"/>
<text x="388" y="323.2" class="lg">1.0 μM Deguelin</text>
<rect x="388.40" y="320.20" width="4.6" height="4.0" fill="#fff"/><rect x="395.00" y="320.20" width="5" height="4.0" fill="#fff"/>
<line x1="330.5" y1="315.2" x2="368" y2="315.2" stroke="#999" stroke-width="1.5"/>
<text x="388" y="350.6" class="lg">10 μM Deguelin</text>
<rect x="388.40" y="347.60" width="4.6" height="4.0" fill="#fff"/><rect x="395.00" y="347.60" width="5" height="4.0" fill="#fff"/>
<line x1="330.5" y1="342.6" x2="368" y2="342.6" stroke="#000" stroke-width="1.5"/>
<text x="388" y="378.0" class="lg">100 μM Deguelin</text>
<rect x="388.40" y="375.00" width="4.6" height="4.0" fill="#fff"/><rect x="395.00" y="375.00" width="5" height="4.0" fill="#fff"/>
<line x1="330.5" y1="370.0" x2="368" y2="370.0" stroke="#000" stroke-width="2.2"/>
<g transform="translate(48.86,144.30) scale(0.9675,1.0444)"><text class="tk">100</text><rect x="0.6" y="-3.2" width="5.45" height="4.2" fill="#fff"/><rect x="9.55" y="-3.2" width="4.8" height="4.2" fill="#fff"/></g>
<g transform="translate(62.95,271.60) scale(0.9481,1.0056)"><text class="tk">50</text></g>
<g transform="translate(76.37,399.50) scale(0.9333,1.0111)"><text class="tk">0</text></g>
<g transform="translate(96.37,428.00) scale(0.9333,1.0111)"><text class="tk">0</text></g>
<g transform="translate(246.55,428.00) scale(0.9512,1.0278)"><text class="tk">500</text></g>
<g transform="translate(402.63,428.00) scale(0.9364,1.0278)"><text class="tk">1000</text><rect x="0.6" y="-3.2" width="5.45" height="4.2" fill="#fff"/><rect x="9.55" y="-3.2" width="4.8" height="4.2" fill="#fff"/></g>
<g transform="translate(272.00,464.84) scale(0.9714,0.9769)"><text class="tt">Time (min)</text></g>
<text transform="translate(31.3,217.4) rotate(-90)" class="tt" text-anchor="middle" style="letter-spacing:0.19px">Percent Oxygen Consumption</text>
</svg>
</body></html>
